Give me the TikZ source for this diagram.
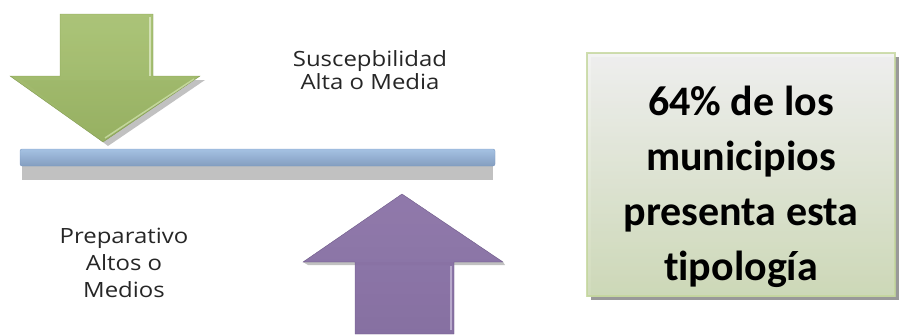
\documentclass[tikz,border=0pt]{standalone}
\usepackage{fontspec}
\setmainfont{Open Sans}
\newfontfamily\lblfont[FakeStretch=1.14]{Open Sans}
\newfontfamily\boxfont[Ligatures=NoCommon]{Carlito}
\usepackage{tikz}
\usetikzlibrary{positioning}

\definecolor{olive}{HTML}{9BBB59}
\definecolor{oliveL}{HTML}{A6C566}
\definecolor{oliveD}{HTML}{8FAF4E}
\definecolor{barL}{HTML}{9EC2EC}
\definecolor{barD}{HTML}{7595C0}
\definecolor{lilac}{HTML}{8064A2}
\definecolor{lilacL}{HTML}{8468A6}
\definecolor{lilacD}{HTML}{785C9A}
\definecolor{boxline}{HTML}{C3D69B}
\definecolor{boxfill}{HTML}{D5E3BA}

\begin{document}
\begin{tikzpicture}[x=1pt,y=-1pt,
  lbl/.style={align=center,font=\lblfont\fontsize{21}{22.5}\selectfont,text=black!85},
  shade/.style={fill=black!30,draw=none,opacity=.8},
  note/.style={align=center,font=\boxfont\bfseries\fontsize{42}{55}\selectfont}]
  \useasboundingbox (0,0) rectangle (904,335);
  % shadows
  \fill[shade] (22,166) rectangle (493,180);
  \fill[shade] (22,80) -- (205,80) -- (108,146) -- cycle;
  \fill[shade] (308,265) -- (505,265) -- (503,262) -- (303,262) -- cycle;
  \fill[black!40] (591,57) rectangle (899,300);
  % green arrow
  \shade[top color=oliveL,bottom color=oliveD,draw=olive!80!black,line width=.4pt]
    (60,14) -- (153,14) -- (153,76) -- (200,76) -- (103,142) -- (10,76) -- (60,76) -- cycle;
  \draw[white!55!olive,line width=1.5pt] (150,17) -- (150,76);
  \draw[white!40!olive,line width=1.5pt] (194,79) -- (105,138);
  % bar
  \shade[top color=barL,bottom color=barD,rounded corners=2pt,draw=barD]
    (20,149) rectangle (495,166);
  % purple arrow
  \shade[top color=lilacL,bottom color=lilacD,draw=lilac!80!black,line width=.4pt]
    (355,334) -- (454,334) -- (454,262) -- (503,262) -- (402,194) -- (303,262) -- (355,262) -- cycle;
  \draw[white!45!lilac,line width=1.5pt] (451,266) -- (451,330);
  % box
  \shade[top color=white,bottom color=boxfill,draw=boxline,line width=2pt]
    (587,53) rectangle (895,296);
  \node[note] (pct) at (741,187) {64\% de los\\municipios\\presenta esta\\tipología};
  \node[lbl] (susc) at (370,70) {Suscepbilidad\\Alta o Media};
  \node[lbl,font=\lblfont\fontsize{21}{27}\selectfont] (prep) at (124,263) {Preparativo\\Altos o\\Medios};
\end{tikzpicture}
\end{document}
